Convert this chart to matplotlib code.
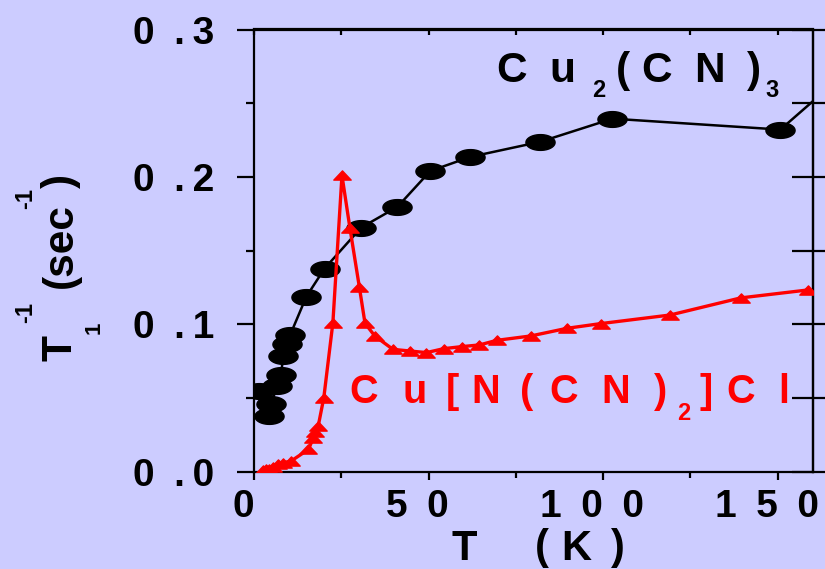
import numpy as np
import matplotlib
matplotlib.use("Agg")
import matplotlib.pyplot as plt
from matplotlib.path import Path
from matplotlib.ticker import FixedLocator, FixedFormatter
import matplotlib.transforms as mtransforms

plt.rcParams['font.family'] = ['Liberation Sans', 'DejaVu Sans']
plt.rcParams['font.weight'] = 'bold'

# ---------------- data ----------------
cu2cn3_T = [1.4, 4.3, 4.8, 6.7, 7.7, 8.4, 9.4, 10.4, 15.0, 20.2, 30.7, 41.1,
            50.5, 62.0, 82.0, 102.7, 150.8, 166.0]
cu2cn3_rate = [0.0547, 0.0378, 0.0457, 0.0581, 0.0654, 0.0785, 0.0864, 0.093,
               0.1188, 0.1378, 0.1656, 0.1797, 0.204, 0.2136, 0.2238, 0.2395,
               0.2321, 0.2635]

kcl_T = [2.5, 3.5, 4.4, 5.3, 6.8, 8.2, 10.6, 15.6, 17.0, 17.5, 18.4, 20.0,
         22.6, 25.2, 27.5, 30.2, 31.8, 34.6, 39.8, 44.6, 49.4, 54.4, 59.7,
         64.6, 69.5, 79.3, 89.7, 99.4, 119.2, 139.4, 158.7]
kcl_rate = [0.001, 0.0015, 0.002, 0.0034, 0.0049, 0.006, 0.0072, 0.0151,
            0.023, 0.027, 0.031, 0.0502, 0.1011, 0.201, 0.165, 0.125, 0.1007,
            0.0921, 0.083, 0.0819, 0.0808, 0.0835, 0.0849, 0.086, 0.0891,
            0.0921, 0.0973, 0.1005, 0.1063, 0.1179, 0.1233]

xticks = [0, 50, 100, 150]
xticklabels = ["0", "5\u20020", "1\u20020\u20020", "1\u20025\u20020"]
yticks = [0.0, 0.1, 0.2, 0.3]
yticklabels = ["0\u2002.\u20090", "0\u2002.\u20091", "0\u2002.\u20092", "0\u2002.\u20093"]

BG = "#CCCCFF"
W, H = 825, 569

fig = plt.figure(figsize=(W / 100, H / 100), dpi=100, facecolor=BG)
ax = fig.add_axes([254 / W, 1 - 471.7 / H, (812.5 - 254) / W, (471.7 - 29.5) / H])
ax.set_facecolor(BG)

# markers
th = np.linspace(0, 2 * np.pi, 60)
ellipse = Path(np.column_stack([np.cos(th), 0.54 * np.sin(th)]), closed=True)
tri = Path([(0, 0.53), (-1, -0.53), (1, -0.53), (0, 0.53)], closed=True)

ax.plot(cu2cn3_T, cu2cn3_rate, color="black", lw=1.8, marker=ellipse,
        markersize=21, markerfacecolor="black", markeredgecolor="black",
        zorder=2)
ax.plot(kcl_T, kcl_rate, color="#FF0000", lw=2.4, marker=tri,
        markersize=12.5, markerfacecolor="#FF0000", markeredgecolor="#FF0000",
        zorder=3)

ax.set_xlim(0, 160)
ax.set_ylim(0, 0.3)

for s in ax.spines.values():
    s.set_linewidth(1.6)
    s.set_color("black")

ax.xaxis.set_major_locator(FixedLocator(xticks))
ax.xaxis.set_major_formatter(FixedFormatter(xticklabels))
ax.xaxis.set_minor_locator(FixedLocator([25, 75, 125]))
ax.yaxis.set_major_locator(FixedLocator(yticks))
ax.yaxis.set_major_formatter(FixedFormatter(yticklabels))
ax.yaxis.set_minor_locator(FixedLocator([0.05, 0.15, 0.25]))

ax.tick_params(axis='x', which='major', direction='out', length=6, width=1.6,
               labelsize=28, pad=6.3, top=False)
ax.tick_params(axis='x', which='minor', direction='out', length=4.5, width=1.6, top=False)
ax.tick_params(axis='y', which='major', direction='out', length=12, width=1.6,
               labelsize=28, pad=16.5, right=False)
ax.tick_params(axis='y', which='minor', direction='out', length=6, width=1.6, right=False)

# top ticks (inward) and right ticks (crossing) via secondary axes
axt = ax.secondary_xaxis('top')
axt.xaxis.set_major_locator(FixedLocator([0, 25, 50, 75, 100, 125, 150]))
axt.tick_params(axis='x', direction='in', length=4, width=1.6, labeltop=False)
axt.spines['top'].set_linewidth(1.6)
axr = ax.secondary_yaxis('right')
axr.yaxis.set_major_locator(FixedLocator([0, 0.05, 0.1, 0.15, 0.2, 0.25, 0.3]))
axr.tick_params(axis='y', direction='inout', length=30, width=1.6, labelright=False)
axr.spines['right'].set_linewidth(1.6)

for lab in ax.get_xticklabels():
    lab.set_fontweight('bold')
    lab.set_transform(lab.get_transform() +
                      mtransforms.ScaledTranslation(-11 / 100, 0, fig.dpi_scale_trans))
for lab in ax.get_yticklabels():
    lab.set_fontweight('bold')


def ftext(x_px, y_px, s, size, color="black", rot=0):
    fig.text(x_px / W, 1 - y_px / H, s, fontsize=size, fontweight='bold',
             color=color, ha='left', va='baseline', rotation=rot,
             rotation_mode='anchor')


# Cu2(CN)3 label
for ch, x in [("C", 496.0), ("u", 549.5), ("(", 616.0), ("C", 641.0),
              ("N", 694.5), (")", 746.8)]:
    ftext(x, 81.7, ch, 30.5)
ftext(592.0, 97, "2", 17)
ftext(765.5, 97, "3", 17)

# Cu[N(CN)2]Cl label
RED = "#FF0000"
for ch, x in [("C", 349.5), ("u", 402.8), ("[", 446.0), ("N", 471.0),
              ("(", 519.5), ("C", 549.5), ("N", 601.0), (")", 653.8),
              ("]", 700.0), ("C", 726.0), ("l", 778.0)]:
    ftext(x, 402.7, ch, 28.5, RED)
ftext(677.0, 419.5, "2", 17, RED)

# x axis label
for ch, x in [("T", 451.0), ("(", 534.5), ("K", 561.0), (")", 610.5)]:
    ftext(x, 559.5, ch, 30)

# y axis label (rotated)
ftext(71.7, 361.0, "T", 30.5, rot=90)
ftext(100.0, 334.3, "1", 16, rot=90)
ftext(31.7, 322.7, "-1", 17, rot=90)
ftext(71.7, 287.5, "(sec", 30.5, rot=90)
ftext(31.7, 209.3, "-1", 17, rot=90)
ftext(71.7, 188.0, ")", 30.5, rot=90)

fig.savefig("out.png", dpi=100, facecolor=BG)
